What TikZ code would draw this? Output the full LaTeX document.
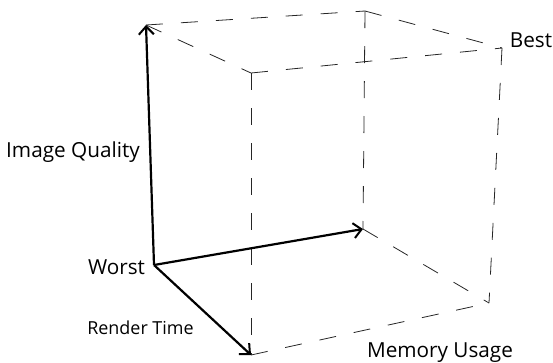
\documentclass[tikz,border=0pt]{standalone}
\usepackage{fontspec}
\setmainfont{Open Sans}
\usetikzlibrary{arrows.meta}
\begin{document}
\begin{tikzpicture}[x=1bp,y=-1bp,
  edge/.style={draw=black!85,line width=0.8bp,dash pattern=on 17bp off 18bp},
  axis/.style={draw=black,line width=2.2bp,-{Straight Barb[length=8bp,width=15bp,line width=2bp]}},
  lbl/.style={inner sep=0pt,anchor=base,font=\fontsize{20.8}{24}\selectfont},
  lbls/.style={inner sep=0pt,anchor=base,font=\fontsize{18}{22}\selectfont}]
\useasboundingbox (0,0) rectangle (553,362);
% cube vertices
\coordinate (O) at (154,265);
\coordinate (A) at (146,25);
\coordinate (B) at (365,11);
\coordinate (C) at (251,73);
\coordinate (D) at (502,48);
\coordinate (E) at (363,229);
\coordinate (F) at (251,355);
\coordinate (G) at (489,303);
% dashed edges
\draw[edge] (A) -- (B);
\draw[edge] (A) -- (C);
\draw[edge] (B) -- (D);
\draw[edge] (C) -- (D);
\draw[edge] (B) -- (E);
\draw[edge] (C) -- (F);
\draw[edge] (D) -- (G);
\draw[edge] (E) -- (G);
\draw[edge] (F) -- (G);
% axes
\draw[axis] (O) -- (A);
\draw[axis] (O) -- (E);
\draw[axis] (O) -- (F);
% labels
\node[lbl] (iq) at (73,157) {Image Quality};
\node[lbl] (worst) at (116.5,274) {Worst};
\node[lbls] (rt) at (140.5,334) {Render Time};
\node[lbl] (mu) at (440,357) {Memory Usage};
\node[lbl] (best) at (531,47) {Best};
\end{tikzpicture}
\end{document}
